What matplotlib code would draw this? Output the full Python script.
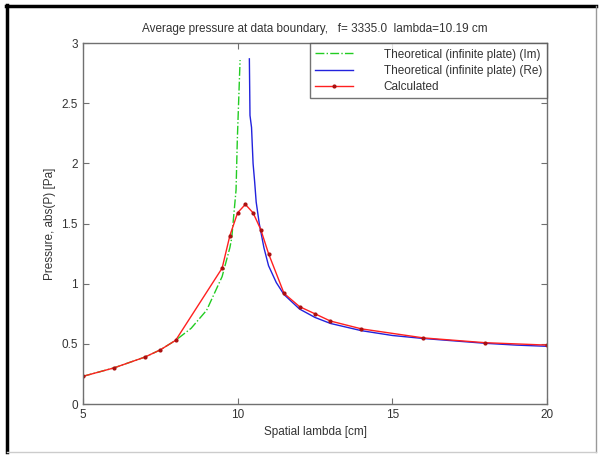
import matplotlib
matplotlib.use('Agg')
import matplotlib.pyplot as plt
from matplotlib.lines import Line2D

plt.rcParams['font.family'] = ['Liberation Sans', 'DejaVu Sans']

# measured (calculated) pressure
x_calc = [5, 6, 7, 7.5, 8, 9.5, 9.75, 10, 10.25, 10.5, 10.75, 11, 11.5, 12, 12.5, 13, 14, 16, 18, 20]
y_calc = [0.23, 0.30, 0.39, 0.45, 0.53, 1.13, 1.40, 1.59, 1.66, 1.59, 1.45, 1.25, 0.92, 0.81, 0.75, 0.69, 0.625, 0.55, 0.51, 0.49]

# theoretical, imaginary branch (below cutoff)
x_im = [5, 6, 7, 7.5, 8, 8.5, 9, 9.5, 9.75, 9.81, 9.95, 9.99, 10.08]
y_im = [0.23, 0.30, 0.39, 0.45, 0.53, 0.63, 0.78, 1.06, 1.30, 1.38, 1.78, 2.19, 2.86]

# theoretical, real branch (above cutoff)
x_re = [10.38, 10.40, 10.45, 10.5, 10.55, 10.6, 10.7, 10.85, 11, 11.25, 11.5, 12, 12.5, 13, 14, 15, 16, 17, 18, 19, 20]
y_re = [2.87, 2.40, 2.30, 2.00, 1.85, 1.68, 1.50, 1.30, 1.15, 1.01, 0.91, 0.79, 0.72, 0.67, 0.61, 0.57, 0.545, 0.525, 0.505, 0.49, 0.48]

xticks = [5, 10, 15, 20]
yticks = [0, 0.5, 1, 1.5, 2, 2.5, 3]
ytick_labels = ['0', '0.5', '1', '1.5', '2', '2.5', '3']

txt = '#333333'
fs = 8.5
fig = plt.figure(figsize=(6, 4.55), dpi=100)
ax = fig.add_axes([0.138, 0.112, 0.774, 0.793])

ax.plot(x_im, y_im, '-.', color='#22cc22', lw=1, label='Theoretical (infinite plate) (Im)')
ax.plot(x_re, y_re, '-', color='#2222dd', lw=1, label='Theoretical (infinite plate) (Re)')
ax.plot(x_calc, y_calc, '.-', color='#ff2020', mfc='#aa1010', mec='#aa1010', ms=4, lw=1,
        label='Calculated')

ax.set_xlim(5, 20)
ax.set_ylim(0, 3)
ax.set_xticks(xticks)
ax.set_xticklabels([str(t) for t in xticks])
ax.set_yticks(yticks)
ax.set_yticklabels(ytick_labels)
ax.tick_params(direction='in', top=True, right=True, length=4, width=0.8,
               colors='#707070', labelcolor=txt, labelsize=fs)
for s in ax.spines.values():
    s.set_color('#707070')
    s.set_linewidth(1)

ax.set_title('Average pressure at data boundary,   f= 3335.0  lambda=10.19 cm',
             fontsize=fs, color=txt, pad=8)
ax.set_xlabel('Spatial lambda [cm]', fontsize=fs, color=txt)
ax.set_ylabel('Pressure, abs(P) [Pa]', fontsize=fs, color=txt)

leg = ax.legend(loc='upper right', fontsize=fs, frameon=True, fancybox=False,
                borderaxespad=0, handlelength=3.2, handletextpad=2.6,
                borderpad=0.45, labelspacing=0.35)
leg.get_frame().set_edgecolor('#505050')
leg.get_frame().set_linewidth(1)
for t in leg.get_texts():
    t.set_color(txt)

# image frame
W, H = 600, 455
fig.add_artist(Line2D([7 / W, 7 / W], [1 - 5 / H, 1 - 452 / H], color='black', lw=2.5))
fig.add_artist(Line2D([6 / W, 596 / W], [1 - 6 / H, 1 - 6 / H], color='black', lw=2.5))
fig.add_artist(Line2D([596 / W, 596 / W], [1 - 6 / H, 1 - 452 / H], color='#999999', lw=1))
fig.add_artist(Line2D([7 / W, 596 / W], [1 - 452 / H, 1 - 452 / H], color='#cccccc', lw=1))

fig.savefig('out.png', dpi=100)
